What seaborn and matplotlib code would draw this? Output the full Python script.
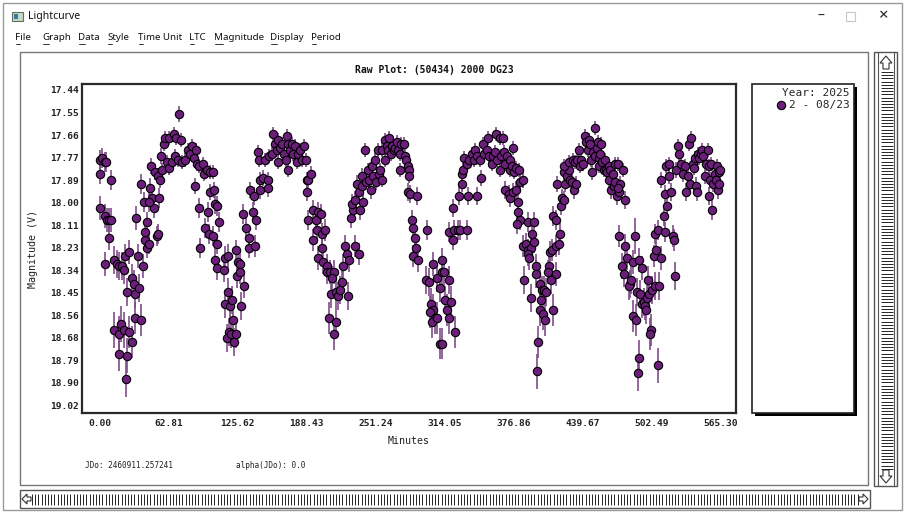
import matplotlib
matplotlib.use("Agg")
import matplotlib.pyplot as plt
import pandas as pd
import seaborn as sns
from matplotlib.patches import Rectangle, Polygon

# ---- light curve points (minutes, V mag, error) ----
# first stretch: 0 - 137 min
t1 = [0.0, 0.4, 1.8, 4.3, 5.5, 0.3, 4.9, 6.4, 7.9, 10.4,
      10.0, 8.5, 4.3, 12.5, 15.5, 17.0, 20.1, 21.6, 22.5, 26.2,
      24.6, 29.2, 30.7, 32.2, 35.9, 32.8, 34.7, 38.9, 37.7, 39.8,
      12.5, 17.0, 19.5, 21.6, 17.0, 24.6, 23.7, 26.2, 29.2, 31.6,
      37.7, 41.4, 42.9, 44.4, 41.4, 42.9, 45.9, 47.4, 49.0, 44.4,
      52.0, 52.9, 54.1, 46.8, 49.9, 52.9, 55.0, 56.0, 58.1, 59.0,
      63.2, 67.2, 69.6, 74.2, 72.4, 56.6, 61.1, 63.2, 65.7, 68.7,
      71.2, 74.8, 77.8, 80.3, 82.4, 83.9, 85.4, 87.6, 88.5, 90.6,
      93.6, 94.6, 97.6, 100.6, 102.8, 86.4, 90.6, 95.5, 98.5, 100.6,
      103.7, 104.6, 106.7, 108.2, 99.1, 102.8, 106.7, 91.5, 105.2, 106.7,
      112.8, 114.3, 116.8, 116.8, 114.3, 118.9, 120.4, 121.0, 117.4, 115.8,
      119.8, 121.9, 124.0, 124.0, 125.9, 128.0, 125.3, 131.0, 128.9, 130.1,
      133.2, 135.6, 135.6, 137.1, 128.0]
m1 = [17.79, 17.86, 17.78, 17.80, 17.80, 18.03, 18.07, 18.09, 18.09, 18.09,
      17.89, 18.18, 18.31, 18.29, 18.31, 18.32, 18.32, 18.34, 18.27, 18.25,
      18.45, 18.38, 18.41, 18.46, 18.43, 18.08, 18.27, 18.32, 17.91, 18.00,
      18.64, 18.66, 18.61, 18.64, 18.76, 18.77, 18.89, 18.65, 18.70, 18.58,
      18.59, 18.19, 18.23, 18.21, 18.15, 18.10, 17.93, 17.98, 18.03, 18.00,
      18.17, 18.16, 17.98, 17.82, 17.85, 17.87, 17.89, 17.77, 17.71, 17.68,
      17.68, 17.66, 17.68, 17.69, 17.56, 17.84, 17.80, 17.83, 17.80, 17.77,
      17.79, 17.80, 17.79, 17.74, 17.76, 17.72, 17.78, 17.74, 17.81, 17.82,
      17.81, 17.86, 17.84, 17.85, 17.85, 17.92, 18.03, 18.13, 18.05, 17.95,
      17.94, 18.01, 18.02, 18.10, 18.16, 18.17, 18.21, 18.23, 18.29, 18.33,
      18.34, 18.28, 18.27, 18.45, 18.51, 18.52, 18.49, 18.59, 18.65, 18.68,
      18.66, 18.70, 18.66, 18.24, 18.30, 18.31, 18.37, 18.42, 18.52, 18.06,
      18.13, 18.18, 18.23, 17.94, 18.35]
e1 = [0.05, 0.05, 0.05, 0.05, 0.05, 0.06, 0.06, 0.06, 0.06, 0.06,
      0.05, 0.06, 0.06, 0.07, 0.07, 0.07, 0.07, 0.07, 0.06, 0.06,
      0.07, 0.07, 0.07, 0.07, 0.07, 0.06, 0.06, 0.06, 0.05, 0.05,
      0.09, 0.09, 0.09, 0.09, 0.09, 0.09, 0.09, 0.08, 0.08, 0.08,
      0.08, 0.05, 0.05, 0.05, 0.05, 0.05, 0.05, 0.05, 0.05, 0.05,
      0.05, 0.05, 0.05, 0.04, 0.04, 0.04, 0.04, 0.04, 0.035, 0.035,
      0.035, 0.035, 0.035, 0.035, 0.04, 0.035, 0.035, 0.035, 0.035, 0.035,
      0.035, 0.035, 0.035, 0.035, 0.035, 0.035, 0.035, 0.035, 0.035, 0.035,
      0.035, 0.035, 0.035, 0.035, 0.035, 0.04, 0.05, 0.05, 0.05, 0.04,
      0.04, 0.05, 0.05, 0.05, 0.05, 0.05, 0.05, 0.05, 0.06, 0.06,
      0.06, 0.06, 0.06, 0.07, 0.07, 0.07, 0.07, 0.07, 0.07, 0.07,
      0.07, 0.07, 0.07, 0.05, 0.06, 0.06, 0.06, 0.06, 0.07, 0.05,
      0.05, 0.05, 0.05, 0.04, 0.06]

# second stretch: 138 - 286 min
t2 = [139.8, 141.9, 141.3, 140.7, 145.9, 143.8, 145.0, 145.9, 148.9, 153.5,
      152.9, 150.4, 154.1, 156.5, 158.0, 159.6, 161.1, 162.6, 162.6, 164.1,
      166.2, 168.1, 170.2, 171.1, 169.3, 173.2, 174.8, 176.3, 177.8, 179.3,
      180.8, 182.4, 184.5, 186.3, 171.7, 187.5, 188.4, 190.0, 192.4, 188.4,
      190.0, 194.5, 196.6, 199.1, 201.5, 194.5, 197.6, 202.1, 204.6, 202.7,
      199.1, 203.6, 206.7, 206.7, 209.7, 212.8, 211.2, 210.6, 214.9, 217.3,
      218.8, 220.4, 221.0, 223.4, 224.9, 227.0, 226.4, 208.8, 214.9, 213.7,
      232.5, 235.6, 228.9, 231.0, 230.1, 232.5, 237.1, 234.0, 236.2, 238.6,
      238.6, 240.1, 241.6, 242.2, 244.1, 245.3, 247.1, 247.7, 249.2, 250.8,
      251.4, 253.2, 254.4, 255.3, 256.8, 257.4, 259.3, 259.9, 261.4, 262.9,
      263.5, 265.4, 266.0, 267.5, 269.0, 270.5, 272.0, 273.6, 274.5, 276.6,
      277.5, 278.7, 280.6, 273.6, 281.2, 281.8, 280.6, 282.7, 284.2, 284.8,
      285.7]
m2 = [18.05, 18.09, 18.22, 17.97, 17.94, 17.75, 17.79, 17.89, 17.88, 17.89,
      17.93, 17.79, 17.77, 17.76, 17.66, 17.71, 17.74, 17.80, 17.69, 17.73,
      17.71, 17.76, 17.67, 17.71, 17.79, 17.74, 17.71, 17.76, 17.72, 17.80,
      17.76, 17.74, 17.79, 17.72, 17.84, 17.79, 17.89, 17.89, 17.86, 17.95,
      18.09, 18.04, 18.09, 18.05, 18.06, 18.19, 18.14, 18.16, 18.14, 18.23,
      18.28, 18.30, 18.32, 18.35, 18.35, 18.35, 18.38, 18.46, 18.45, 18.47,
      18.44, 18.40, 18.32, 18.22, 18.26, 18.29, 18.47, 18.58, 18.60, 18.66,
      18.22, 18.26, 18.08, 18.04, 18.01, 17.99, 18.04, 17.91, 17.95, 17.92,
      17.87, 18.00, 17.74, 17.90, 17.84, 17.89, 17.94, 17.82, 17.87, 17.79,
      17.90, 17.74, 17.86, 17.84, 17.89, 17.74, 17.79, 17.69, 17.72, 17.74,
      17.68, 17.76, 17.72, 17.74, 17.73, 17.70, 17.74, 17.76, 17.71, 17.71,
      17.77, 17.79, 17.82, 17.84, 17.84, 17.87, 17.95, 17.96, 18.09, 18.13,
      18.27]
e2 = [0.05, 0.05, 0.055, 0.045, 0.045, 0.035, 0.035, 0.04, 0.04, 0.04,
      0.045, 0.035, 0.035, 0.035, 0.035, 0.035, 0.035, 0.035, 0.035, 0.035,
      0.035, 0.035, 0.035, 0.035, 0.035, 0.035, 0.035, 0.035, 0.035, 0.035,
      0.035, 0.035, 0.035, 0.035, 0.035, 0.035, 0.04, 0.04, 0.04, 0.045,
      0.05, 0.05, 0.05, 0.05, 0.05, 0.055, 0.055, 0.055, 0.055, 0.055,
      0.06, 0.06, 0.06, 0.06, 0.06, 0.06, 0.06, 0.07, 0.07, 0.07,
      0.07, 0.06, 0.06, 0.055, 0.055, 0.06, 0.07, 0.08, 0.08, 0.08,
      0.055, 0.055, 0.05, 0.05, 0.05, 0.045, 0.05, 0.045, 0.045, 0.045,
      0.04, 0.045, 0.035, 0.04, 0.035, 0.04, 0.045, 0.035, 0.04, 0.035,
      0.04, 0.035, 0.035, 0.035, 0.035, 0.035, 0.035, 0.035, 0.035, 0.035,
      0.035, 0.035, 0.035, 0.035, 0.035, 0.035, 0.035, 0.035, 0.035, 0.035,
      0.035, 0.035, 0.035, 0.035, 0.035, 0.035, 0.045, 0.045, 0.05, 0.05,
      0.055]

# third stretch: 287 - 437 min
t3 = [289.3, 287.2, 288.1, 290.2, 298.4, 297.2, 300.2, 303.9, 306.9, 311.5,
      311.5, 313.6, 309.4, 301.4, 303.9, 300.8, 305.4, 302.4, 307.5, 314.5,
      318.5, 316.0, 319.7, 317.6, 309.4, 311.5, 323.6, 318.5, 321.5, 322.7,
      326.7, 328.2, 334.3, 321.5, 327.6, 335.8, 343.4, 329.7, 329.7, 331.2,
      331.8, 334.3, 336.7, 338.8, 340.4, 341.9, 343.4, 347.0, 346.4, 348.9,
      350.1, 352.5, 354.0, 354.9, 357.1, 358.0, 360.1, 361.0, 362.2, 364.1,
      364.7, 365.3, 367.1, 368.3, 369.2, 370.8, 373.2, 373.8, 375.3, 376.2,
      377.4, 379.3, 381.4, 382.9, 385.3, 369.2, 372.3, 373.8, 376.8, 379.3,
      380.5, 380.5, 382.9, 379.9, 385.9, 388.4, 390.5, 392.6, 389.6, 391.4,
      390.5, 395.1, 393.6, 395.7, 386.6, 397.5, 397.5, 392.6, 400.6, 402.7,
      401.8, 404.8, 406.6, 401.2, 403.6, 405.7, 399.6, 398.1, 409.7, 408.8,
      407.9, 411.8, 415.8, 417.9, 419.4, 415.8, 410.9, 412.7, 412.7, 415.8,
      416.4, 420.0, 420.9, 423.0, 422.4, 423.9, 425.5, 427.0, 428.5, 430.0,
      431.6, 423.0, 427.0, 430.9, 433.1, 434.6, 436.1]
m3 = [17.97, 18.18, 18.23, 18.29, 18.14, 18.39, 18.40, 18.31, 18.38, 18.29,
      18.35, 18.35, 18.43, 18.51, 18.54, 18.55, 18.58, 18.60, 18.58, 18.49,
      18.39, 18.54, 18.50, 18.58, 18.71, 18.71, 18.65, 18.15, 18.19, 18.14,
      18.14, 18.14, 18.14, 18.03, 17.97, 17.97, 17.97, 17.91, 17.86, 17.84,
      17.78, 17.81, 17.79, 17.76, 17.79, 17.74, 17.77, 17.88, 17.79, 17.71,
      17.76, 17.74, 17.68, 17.77, 17.81, 17.77, 17.75, 17.66, 17.79, 17.84,
      17.68, 17.77, 17.68, 17.75, 17.81, 17.77, 17.84, 17.79, 17.82, 17.73,
      17.85, 17.83, 17.84, 17.90, 17.89, 17.94, 17.96, 17.98, 17.95, 17.94,
      18.00, 18.05, 18.09, 18.11, 18.22, 18.21, 18.24, 18.23, 18.26, 18.28,
      18.10, 18.10, 18.16, 18.20, 18.39, 18.32, 18.36, 18.48, 18.41, 18.44,
      18.49, 18.44, 18.45, 18.54, 18.56, 18.59, 18.70, 18.85, 18.25, 18.32,
      18.35, 18.24, 18.22, 18.21, 18.16, 18.36, 18.39, 18.54, 18.07, 18.09,
      17.91, 18.02, 17.98, 17.99, 17.85, 17.91, 17.87, 17.84, 17.89, 17.90,
      17.94, 17.82, 17.80, 17.79, 17.80, 17.79, 17.74]
e3 = [0.045, 0.055, 0.055, 0.06, 0.05, 0.07, 0.07, 0.06, 0.07, 0.06,
      0.07, 0.07, 0.07, 0.08, 0.08, 0.08, 0.08, 0.08, 0.08, 0.07,
      0.07, 0.08, 0.08, 0.08, 0.08, 0.08, 0.08, 0.05, 0.05, 0.05,
      0.05, 0.05, 0.05, 0.045, 0.045, 0.045, 0.045, 0.04, 0.04, 0.035,
      0.035, 0.035, 0.035, 0.035, 0.035, 0.035, 0.035, 0.04, 0.035, 0.035,
      0.035, 0.035, 0.035, 0.035, 0.035, 0.035, 0.035, 0.035, 0.035, 0.035,
      0.035, 0.035, 0.035, 0.035, 0.035, 0.035, 0.035, 0.035, 0.035, 0.035,
      0.035, 0.035, 0.035, 0.04, 0.04, 0.045, 0.045, 0.045, 0.045, 0.045,
      0.045, 0.05, 0.05, 0.05, 0.055, 0.055, 0.055, 0.055, 0.06, 0.06,
      0.05, 0.05, 0.055, 0.055, 0.07, 0.06, 0.07, 0.07, 0.07, 0.07,
      0.07, 0.07, 0.07, 0.08, 0.08, 0.08, 0.08, 0.09, 0.055, 0.06,
      0.06, 0.055, 0.055, 0.055, 0.055, 0.06, 0.07, 0.08, 0.05, 0.05,
      0.04, 0.045, 0.045, 0.045, 0.04, 0.04, 0.04, 0.04, 0.04, 0.04,
      0.045, 0.035, 0.035, 0.035, 0.035, 0.035, 0.035]

# last stretch: 437 - 565 min
t4 = [438.6, 437.7, 439.8, 433.7, 441.6, 442.8, 444.7, 445.9, 446.8, 447.7,
      448.9, 448.3, 450.7, 451.3, 452.9, 453.8, 454.4, 455.0, 455.9, 456.8,
      457.4, 458.9, 459.9, 461.1, 462.0, 463.5, 464.1, 465.0, 465.9, 467.1,
      468.1, 469.0, 469.6, 471.1, 472.0, 473.2, 474.1, 472.0, 476.3, 478.7,
      473.2, 475.7, 477.2, 478.7, 480.2, 483.3, 482.3, 484.2, 485.4, 487.8,
      489.3, 491.5, 493.9, 492.4, 493.9, 495.4, 496.9, 497.5, 498.5, 499.4,
      500.6, 503.0, 505.4, 502.4, 501.5, 485.4, 488.4, 491.5, 490.3, 508.5,
      504.5, 506.7, 505.4, 508.5, 511.5, 513.7, 514.6, 509.7, 516.7, 514.6,
      520.6, 511.5, 515.8, 518.8, 518.2, 521.9, 522.8, 523.7, 524.9, 526.7,
      527.9, 529.8, 531.0, 532.8, 534.0, 535.8, 537.1, 538.9, 538.0, 540.1,
      541.0, 542.5, 543.1, 544.1, 545.0, 546.2, 548.0, 548.6, 549.2, 551.0,
      552.3, 554.1, 554.7, 555.3, 556.2, 557.1, 557.7, 558.3, 560.2, 561.4,
      562.3, 563.2, 563.8, 564.4, 565.3]
m4 = [17.79, 17.82, 17.81, 17.91, 17.67, 17.70, 17.74, 17.69, 17.71, 17.79,
      17.75, 17.85, 17.77, 17.63, 17.73, 17.70, 17.82, 17.78, 17.76, 17.71,
      17.80, 17.84, 17.79, 17.84, 17.85, 17.89, 17.82, 17.84, 17.94, 17.86,
      17.92, 17.90, 17.81, 17.97, 17.81, 17.95, 17.91, 17.93, 17.84, 17.99,
      18.17, 18.32, 18.36, 18.22, 18.28, 18.41, 18.42, 18.39, 18.30, 18.17,
      18.45, 18.29, 18.33, 18.46, 18.51, 18.50, 18.52, 18.54, 18.48, 18.39,
      18.46, 18.44, 18.42, 18.64, 18.66, 18.57, 18.59, 18.78, 18.86, 18.82,
      18.27, 18.24, 18.16, 18.14, 18.28, 18.07, 18.15, 18.42, 18.02, 17.96,
      17.95, 17.89, 17.82, 17.81, 17.87, 18.17, 18.19, 18.37, 17.84, 17.72,
      17.76, 17.81, 17.86, 17.82, 17.95, 17.87, 17.71, 17.68, 17.91, 17.81,
      17.83, 17.78, 17.92, 17.95, 17.76, 17.78, 17.76, 17.74, 17.77, 17.87,
      17.81, 17.74, 17.97, 17.82, 17.89, 17.81, 18.04, 17.91, 17.86, 17.89,
      17.82, 17.94, 17.91, 17.85, 17.84]
e4 = [0.035, 0.035, 0.035, 0.04, 0.035, 0.035, 0.035, 0.035, 0.035, 0.035,
      0.035, 0.04, 0.035, 0.035, 0.035, 0.035, 0.035, 0.035, 0.035, 0.035,
      0.035, 0.035, 0.035, 0.035, 0.04, 0.04, 0.035, 0.035, 0.045, 0.04,
      0.045, 0.04, 0.035, 0.045, 0.035, 0.045, 0.04, 0.045, 0.035, 0.045,
      0.055, 0.065, 0.065, 0.06, 0.06, 0.07, 0.07, 0.07, 0.06, 0.09,
      0.07, 0.06, 0.06, 0.07, 0.07, 0.07, 0.07, 0.07, 0.07, 0.07,
      0.07, 0.07, 0.07, 0.08, 0.08, 0.08, 0.08, 0.09, 0.09, 0.09,
      0.055, 0.055, 0.05, 0.05, 0.06, 0.05, 0.05, 0.07, 0.05, 0.045,
      0.045, 0.04, 0.035, 0.035, 0.04, 0.055, 0.055, 0.07, 0.04, 0.035,
      0.035, 0.035, 0.04, 0.035, 0.045, 0.04, 0.035, 0.035, 0.04, 0.035,
      0.035, 0.035, 0.045, 0.045, 0.035, 0.035, 0.035, 0.035, 0.035, 0.04,
      0.035, 0.035, 0.045, 0.035, 0.04, 0.035, 0.05, 0.04, 0.04, 0.04,
      0.035, 0.045, 0.04, 0.04, 0.04]

# axis ticks as the program prints them
x_ticks = [0.00, 62.81, 125.62, 188.43, 251.24, 314.05, 376.86, 439.67, 502.49, 565.30]
x_labels = ["0.00", "62.81", "125.62", "188.43", "251.24", "314.05",
            "376.86", "439.67", "502.49", "565.30"]
y_ticks = [17.44, 17.553, 17.666, 17.779, 17.891, 18.004, 18.117, 18.23,
           18.343, 18.456, 18.569, 18.681, 18.794, 18.907, 19.02]
y_labels = ["17.44", "17.55", "17.66", "17.77", "17.89", "18.00", "18.11", "18.23",
            "18.34", "18.45", "18.56", "18.68", "18.79", "18.90", "19.02"]

menu_items = ["File", "Graph", "Data", "Style", "Time Unit", "LTC", "Magnitude", "Display", "Period"]
menu_x = [15, 42, 78, 107, 138, 189, 214, 270, 311]

df = pd.DataFrame({"minutes": t1 + t2 + t3 + t4,
                   "mag": m1 + m2 + m3 + m4,
                   "err": e1 + e2 + e3 + e4})

sns.set_style("white")
plt.rcParams["font.family"] = ["DejaVu Sans Mono"]

W, H = 905, 513
fig = plt.figure(figsize=(W / 100, H / 100), dpi=100)
fig.patch.set_facecolor("white")


def px_box(l, t, r, b):
    return [l / W, 1 - b / H, (r - l) / W, (b - t) / H]


# window furniture, drawn in pixel coords on a full size axes
ch = fig.add_axes([0, 0, 1, 1], zorder=0)
ch.set_xlim(0, W)
ch.set_ylim(H, 0)
ch.axis("off")

ch.add_patch(Rectangle((3, 3), 899, 507, fill=False, ec="#9a9a9a", lw=1))
ch.add_patch(Rectangle((12, 12), 11, 9, fc="#c8d8c8", ec="#607060", lw=0.8))
ch.add_patch(Rectangle((14, 14), 4, 5, fc="#3a7a9a", lw=0))
ch.text(28, 17, "Lightcurve", family="Noto Sans", fontsize=7.5, va="center", color="#111")
ch.text(821, 16, "\u2013", family="Noto Sans", fontsize=10, ha="center", va="center", color="#222")
ch.add_patch(Rectangle((846, 12), 9, 9, fill=False, ec="#c8c8c8", lw=0.8))
ch.text(884, 16, "\u00d7", family="Noto Sans", fontsize=12, ha="center", va="center", color="#222")

renderer = fig.canvas.get_renderer()
for name, mx in zip(menu_items, menu_x):
    ch.text(mx, 38, name, family="Noto Sans", fontsize=7, va="center", color="#111")
    first = ch.text(mx, 38, name[0], family="Noto Sans", fontsize=7, va="center", alpha=0)
    bb = first.get_window_extent(renderer).transformed(ch.transData.inverted())
    ch.plot([bb.x0 + 0.5, bb.x1 - 0.5], [44, 44], color="#111", lw=0.6)

# inner panel
ch.add_patch(Rectangle((20, 52), 848, 433, fill=False, ec="#777", lw=1))

# legend panel with drop shadow
ch.add_patch(Rectangle((755, 87), 102, 329, fc="black", lw=0))
ch.add_patch(Rectangle((752, 84), 102, 329, fc="white", ec="#222", lw=1.2))

# scroll bars
ch.add_patch(Rectangle((874, 52), 23, 434, fc="white", ec="#555", lw=1))
ch.plot([878, 878], [52, 486], color="#555", lw=0.8)
ch.plot([894, 894], [52, 486], color="#555", lw=0.8)
ch.hlines([72 + 3.2 * i for i in range(125)], 880.5, 892.5, color="#222", lw=0.7)
ch.add_patch(Polygon([[886, 56], [880, 63], [883, 63], [883, 69], [889, 69], [889, 63], [892, 63]],
                     fc="white", ec="#333", lw=0.8))
ch.add_patch(Polygon([[886, 483], [880, 476], [883, 476], [883, 470], [889, 470], [889, 476], [892, 476]],
                     fc="white", ec="#333", lw=0.8))
ch.add_patch(Rectangle((20, 490), 850, 18, fc="white", ec="#555", lw=1))
ch.vlines([32 + 3.2 * i for i in range(259)], 494, 504.5, color="#222", lw=0.7)
ch.add_patch(Polygon([[22, 499], [27, 494], [27, 497], [31, 497], [31, 501], [27, 501], [27, 504]],
                     fc="white", ec="#333", lw=0.8))
ch.add_patch(Polygon([[868, 499], [863, 494], [863, 497], [859, 497], [859, 501], [863, 501], [863, 504]],
                     fc="white", ec="#333", lw=0.8))

ch.text(434, 70, "Raw Plot: (50434) 2000 DG23", fontsize=7, fontweight="bold",
        ha="center", va="center", color="#111")
ch.text(85, 465, "JDo: 2460911.257241", fontsize=5.6, va="center", color="#222")
ch.text(236, 465, "alpha(JDo): 0.0", fontsize=5.6, va="center", color="#222")

# ---- the light curve itself ----
ax = fig.add_axes(px_box(82, 84, 736, 413), zorder=2)
ax.set_facecolor("white")
ax.errorbar(df["minutes"], df["mag"], yerr=df["err"], fmt="none",
            ecolor="#7d4a88", elinewidth=1.3, alpha=0.9, zorder=2)
sns.scatterplot(data=df, x="minutes", y="mag", color="#6b1f7b", edgecolor="black",
                linewidth=0.8, s=36, zorder=3, label="2 - 08/23", ax=ax)

ax.set_xlim(-16.4, 579.6)
ax.set_ylim(19.058, 17.41)
ax.set_xticks(x_ticks)
ax.set_xticklabels(x_labels)
ax.set_yticks(y_ticks)
ax.set_yticklabels(y_labels)
ax.tick_params(axis="x", direction="in", length=5.8, width=1.5, pad=4, labelsize=6.8, colors="#222")
ax.tick_params(axis="y", direction="in", length=4.3, width=1.5, pad=2, labelsize=6.8, colors="#222")
for lab in ax.get_xticklabels() + ax.get_yticklabels():
    lab.set_fontweight("bold")
for sp in ax.spines.values():
    sp.set_linewidth(1.6)
    sp.set_color("#2a2a2a")

ax.set_xlabel("Minutes", fontsize=7.2, color="#222", va="center")
ax.xaxis.set_label_coords(0.5, -0.085)
ax.set_ylabel("Magnitude (V)", fontsize=7.2, color="#222", va="center")
ax.yaxis.set_label_coords(-0.075, 0.5)

ax.legend(title="Year: 2025", loc="upper right", bbox_to_anchor=(850 / W, 1 - 88 / H),
          bbox_transform=fig.transFigure, frameon=False, alignment="right",
          prop={"family": "DejaVu Sans Mono", "size": 8},
          title_fontproperties={"family": "DejaVu Sans Mono", "size": 8},
          handletextpad=0.2, borderpad=0, borderaxespad=0, labelspacing=0.2,
          handlelength=1.0)

fig.savefig("out.png", dpi=100, facecolor=fig.get_facecolor())
